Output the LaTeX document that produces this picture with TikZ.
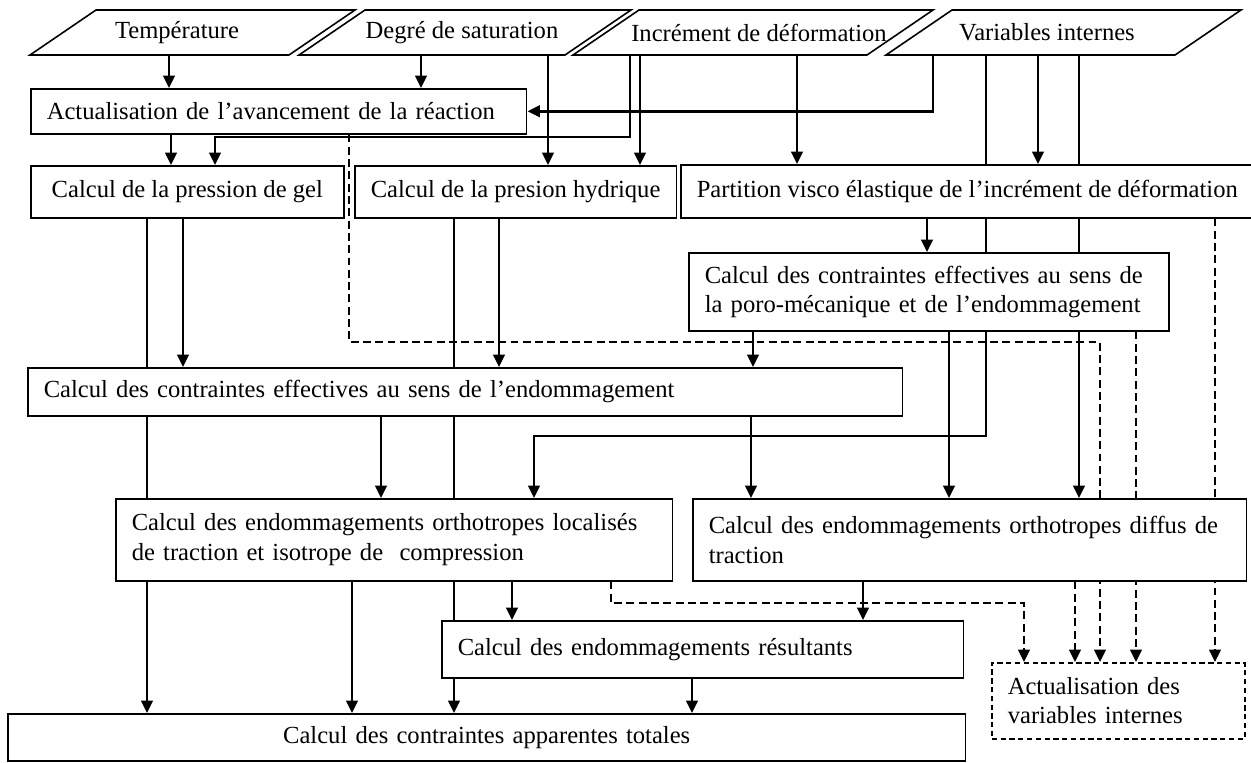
\documentclass[tikz,border=0pt]{standalone}
\usepackage{fontspec}
\setmainfont{Liberation Serif}
\usetikzlibrary{arrows.meta,backgrounds}

\tikzset{
  calcbox/.style={draw, fill=white, line width=0.9pt, align=left, anchor=north west,
    inner xsep=0.32cm, inner ysep=0pt},
  inputtext/.style={inner sep=0pt, minimum height=0.9cm},
  flow/.style={line width=1.4pt, -{Triangle[length=7pt,width=6.5pt]}},
  flowdash/.style={flow, dash pattern=on 4.5pt off 2.5pt},
}

\begin{document}
\begin{tikzpicture}[x=0.02cm, y=-0.02cm, font=\fontsize{14pt}{16.8pt}\selectfont]

\useasboundingbox (0,0) rectangle (1251,762);

% donnees d'entree
\node[inputtext] (temp) at (177,32.5) {Température};
\node[inputtext] (satur) at (462,32.5) {Degré de saturation};
\node[inputtext] (incr) at (759,32.5) {Incrément de déformation};
\node[inputtext] (varint) at (1047,32.5) {Variables internes};

\draw[line width=0.9pt] (30,55) -- (289,55) -- (355,10) -- (96,10) -- cycle;
\draw[line width=0.9pt] (299,55) -- (565,55) -- (631,10) -- (365,10) -- cycle;
\draw[line width=0.9pt] (573,55) -- (867,55) -- (933,10) -- (639,10) -- cycle;
\draw[line width=0.9pt] (886,55) -- (1175,55) -- (1241,10) -- (952,10) -- cycle;

% etapes de calcul
\node[calcbox, text width=9.28cm, minimum height=0.9cm] (actu) at (30,88)
  {Actualisation de l’avancement de la réaction};
\node[calcbox, minimum width=6.26cm, minimum height=1.04cm] (gel) at (30,165)
  {Calcul de la pression de gel};
\node[calcbox, minimum width=6.42cm, minimum height=1.04cm] (hydr) at (354,165)
  {Calcul de la presion hydrique};
\node[calcbox, minimum width=11.32cm, minimum height=1.06cm] (part) at (680,164)
  {Partition visco élastique de l’incrément de déformation};
\node[calcbox, text width=8.96cm, minimum height=1.56cm] (poro) at (688,252)
  {Calcul des contraintes effectives au sens de\\la poro-mécanique et de l’endommagement};
\node[calcbox, text width=16.86cm, minimum height=0.96cm] (ce) at (27,367)
  {Calcul des contraintes effectives au sens de l’endommagement};
\node[calcbox, text width=10.5cm, minimum height=1.64cm] (loc) at (115,498)
  {Calcul des endommagements orthotropes localisés\\de traction et isotrope de~ compression};
\node[calcbox, text width=10.44cm, minimum height=1.64cm] (diff) at (692,498)
  {Calcul des endommagements orthotropes diffus de\\traction};
\node[calcbox, text width=9.8cm, minimum height=1.14cm] (res) at (441,620)
  {Calcul des endommagements résultants};
\node[calcbox, align=center, text width=18.52cm, minimum height=0.94cm] (appar) at (7,713)
  {Calcul des contraintes apparentes totales};
\node[calcbox, dash pattern=on 3pt off 2pt, text width=4.42cm, minimum height=1.52cm] (av) at (991,662)
  {Actualisation des\\variables internes};

\begin{pgfonlayer}{background}
% liaisons
\draw[flow] (169,0 |- temp.south) -- (169,0 |- actu.north);
\draw[flow] (421,0 |- satur.south) -- (421,0 |- actu.north);
\draw[flow] (548,0 |- satur.south) -- (548,0 |- hydr.north);
\draw[flow] (630,0 |- incr.south) |- (215,137) -- (215,0 |- gel.north);
\draw[flow] (640,0 |- incr.south) -- (640,0 |- hydr.north);
\draw[flow] (797,0 |- incr.south) -- (797,0 |- part.north);
\draw[flow] (933,0 |- varint.south) |- (actu.east);
\draw[flow] (986,0 |- varint.south) |- (534,436) -- (534,0 |- loc.north);
\draw[flow] (1038,0 |- varint.south) -- (1038,0 |- part.north);
\draw[flow] (1079,0 |- varint.south) -- (1079,0 |- diff.north);
\draw[flow] (171,0 |- actu.south) -- (171,0 |- gel.north);
\draw[flow] (147,0 |- gel.south) -- (147,0 |- appar.north);
\draw[flow] (183,0 |- gel.south) -- (183,0 |- ce.north);
\draw[flow] (454,0 |- hydr.south) -- (454,0 |- appar.north);
\draw[flow] (499,0 |- hydr.south) -- (499,0 |- ce.north);
\draw[flow] (927,0 |- part.south) -- (927,0 |- poro.north);
\draw[flow] (753,0 |- poro.south) -- (753,0 |- ce.north);
\draw[flow] (949,0 |- poro.south) -- (949,0 |- diff.north);
\draw[flow] (381,0 |- ce.south) -- (381,0 |- loc.north);
\draw[flow] (751,0 |- ce.south) -- (751,0 |- diff.north);
\draw[flow] (352,0 |- loc.south) -- (352,0 |- appar.north);
\draw[flow] (512,0 |- loc.south) -- (512,0 |- res.north);
\draw[flow] (863,0 |- diff.south) -- (863,0 |- res.north);
\draw[flow] (692,0 |- res.south) -- (692,0 |- appar.north);

% mise a jour des variables internes
\draw[flowdash] (349,0 |- actu.south) |- (1100,342) -- (1100,0 |- av.north);
\draw[flowdash] (1215,0 |- part.south) -- (1215,0 |- av.north);
\draw[flowdash] (1136,0 |- poro.south) -- (1136,0 |- av.north);
\draw[flowdash] (1075,0 |- diff.south) -- (1075,0 |- av.north);
\draw[flowdash] (611,0 |- loc.south) |- (1024,603) -- (1024,0 |- av.north);
\end{pgfonlayer}

\end{tikzpicture}
\end{document}
